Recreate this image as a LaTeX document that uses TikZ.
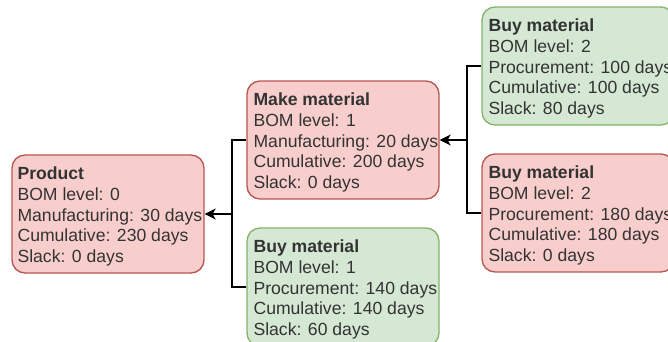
\documentclass[tikz,border=0pt]{standalone}
\usepackage{fontspec}
\setmainfont{Liberation Sans}
\usetikzlibrary{arrows.meta}

\definecolor{redfill}{HTML}{F8CECC}
\definecolor{redline}{HTML}{B85450}
\definecolor{greenfill}{HTML}{D5E8D4}
\definecolor{greenline}{HTML}{82B366}
\definecolor{textgray}{HTML}{333333}

% Card text: bold title followed by four detail lines
\newcommand\cardtext[5]{\textbf{#1}\\#2\\#3\\#4\\#5}

\tikzset{
  card/.style={rectangle, rounded corners=13pt, line width=1.3pt,
    minimum width=192pt, minimum height=118pt, inner sep=0pt},
  redcard/.style={card, draw=redline, fill=redfill},
  greencard/.style={card, draw=greenline, fill=greenfill},
  cardtxt/.style={anchor=west, align=left, inner sep=0pt, text=textgray,
    font=\fontsize{17.6pt}{20.6pt}\selectfont},
  link/.style={line width=1.3pt, black},
  arrowlink/.style={link, -{Stealth[length=11pt, width=11pt, inset=3pt]}}
}

\begin{document}
\begin{tikzpicture}[x=1pt, y=-1pt]
  \useasboundingbox (0,0) rectangle (668,341);

  % Boxes
  \node[redcard]   (prod)  at (108,214) {};
  \node[redcard]   (make)  at (343,140) {};
  \node[greencard] (buyA)  at (343,287) {};
  \node[greencard] (buyB)  at (578,66)  {};
  \node[redcard]   (buyC)  at (578,213) {};

  % Box contents, set a little below the box centre
  \node[cardtxt] (prodtxt) at ([xshift=6pt,yshift=-2.5pt]prod.west)
    {\cardtext{Product}{BOM level: 0}{Manufacturing: 30 days}{Cumulative: 230 days}{Slack: 0 days}};
  \node[cardtxt] (maketxt) at ([xshift=7pt,yshift=-2.5pt]make.west)
    {\cardtext{Make material}{BOM level: 1}{Manufacturing: 20 days}{Cumulative: 200 days}{Slack: 0 days}};
  \node[cardtxt] (buyAtxt) at ([xshift=7pt,yshift=-2.5pt]buyA.west)
    {\cardtext{Buy material}{BOM level: 1}{Procurement: 140 days}{Cumulative: 140 days}{Slack: 60 days}};
  \node[cardtxt] (buyBtxt) at ([xshift=7pt,yshift=-2.5pt]buyB.west)
    {\cardtext{Buy material}{BOM level: 2}{Procurement: 100 days}{Cumulative: 100 days}{Slack: 80 days}};
  \node[cardtxt] (buyCtxt) at ([xshift=7pt,yshift=-2.5pt]buyC.west)
    {\cardtext{Buy material}{BOM level: 2}{Procurement: 180 days}{Cumulative: 180 days}{Slack: 0 days}};

  % Junction points of the orthogonal connectors
  \coordinate (j1) at (232,214);
  \coordinate (j2) at (467,140);

  % Level 1 into the product
  \draw[arrowlink] (make.west) -| (j1) -- (prod.east);
  \draw[link] (buyA.west) -| (j1);

  % Level 2 into the made material
  \draw[arrowlink] (buyB.west) -| (j2) -- (make.east);
  \draw[link] (buyC.west) -| (j2);
\end{tikzpicture}
\end{document}
